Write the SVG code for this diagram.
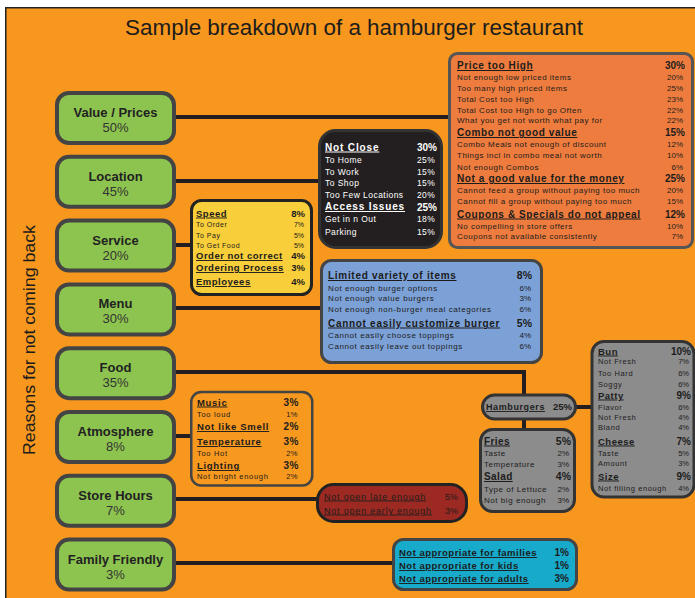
<svg xmlns="http://www.w3.org/2000/svg" width="695" height="598" viewBox="0 0 695 598">
<style>
text{font-family:"Liberation Sans",Arial,sans-serif;fill:#1c1c1c}
.u{text-decoration:underline;text-decoration-thickness:1.6px}
.e{text-anchor:end}
.nt{font-weight:bold;font-size:13px;text-anchor:middle;fill:#222}
.np{font-size:13px;text-anchor:middle;fill:#333}
.node rect{fill:#8DC44F;stroke:#444;stroke-width:4}
.box{stroke-width:3}
.h{font-weight:bold;font-size:10px}
.hp{font-weight:bold;font-size:10px}
.r{font-size:8px}
.rp{font-size:8px}
.w text{fill:#fff}
</style>
<rect x="5.75" y="7.75" width="700" height="600" fill="#F7971E" stroke="#222" stroke-width="1.5"/>
<text x="354" y="35" font-family="Roboto,'DejaVu Sans',sans-serif" font-weight="500" font-size="22" text-anchor="middle" textLength="458" lengthAdjust="spacingAndGlyphs" fill="#2a2a2a">Sample breakdown of a hamburger restaurant</text>
<text transform="translate(35,340) rotate(-90)" font-size="17" text-anchor="middle" textLength="230" lengthAdjust="spacingAndGlyphs" fill="#222">Reasons for not coming back</text>

<g id="connectors" fill="none" stroke="#231F20" stroke-width="4">
<line x1="176" y1="117" x2="449" y2="117"/>
<line x1="176" y1="181" x2="319" y2="181"/>
<line x1="176" y1="245" x2="191" y2="245"/>
<line x1="176" y1="308" x2="321" y2="308"/>
<polyline points="176,372 524,372 524,396"/>
<line x1="576" y1="407" x2="592" y2="407"/>
<line x1="524" y1="419" x2="524" y2="429"/>
<line x1="176" y1="436" x2="191" y2="436"/>
<line x1="176" y1="499" x2="318" y2="499"/>
<line x1="176" y1="563" x2="393" y2="563"/>
</g>

<g id="n-value" class="node"><rect x="57" y="93" width="117" height="50" rx="12"/><text class="nt" x="115.5" y="117">Value / Prices</text><text class="np" x="115.5" y="132">50%</text></g>
<g id="n-location" class="node"><rect x="57" y="156.8" width="117" height="50" rx="12"/><text class="nt" x="115.5" y="180.8">Location</text><text class="np" x="115.5" y="195.8">45%</text></g>
<g id="n-service" class="node"><rect x="57" y="220.6" width="117" height="50" rx="12"/><text class="nt" x="115.5" y="244.6">Service</text><text class="np" x="115.5" y="259.6">20%</text></g>
<g id="n-menu" class="node"><rect x="57" y="284.4" width="117" height="50" rx="12"/><text class="nt" x="115.5" y="308.4">Menu</text><text class="np" x="115.5" y="323.4">30%</text></g>
<g id="n-food" class="node"><rect x="57" y="348.2" width="117" height="50" rx="12"/><text class="nt" x="115.5" y="372.2">Food</text><text class="np" x="115.5" y="387.2">35%</text></g>
<g id="n-atmosphere" class="node"><rect x="57" y="412" width="117" height="50" rx="12"/><text class="nt" x="115.5" y="436">Atmosphere</text><text class="np" x="115.5" y="451">8%</text></g>
<g id="n-hours" class="node"><rect x="57" y="475.8" width="117" height="50" rx="12"/><text class="nt" x="115.5" y="499.8">Store Hours</text><text class="np" x="115.5" y="514.8">7%</text></g>
<g id="n-family" class="node"><rect x="57" y="539.6" width="117" height="50" rx="12"/><text class="nt" x="115.5" y="563.6">Family Friendly</text><text class="np" x="115.5" y="578.6">3%</text></g>

<g id="d-value">
<rect class="box" x="449.5" y="53.5" width="243" height="194" rx="8" fill="#EE7C3E" stroke="#555"/>
<g letter-spacing="0.6"><text class="h u" x="457" y="69">Price too High</text><text class="h u" x="457" y="136">Combo not good value</text><text class="h u" x="457" y="182">Not a good value for the money</text><text class="h u" x="457" y="217.5">Coupons &amp; Specials do not appeal</text></g>
<g class="e"><text class="hp e" x="685" y="69">30%</text><text class="hp e" x="685" y="136">15%</text><text class="hp e" x="685" y="182">25%</text><text class="hp e" x="685" y="217.5">12%</text></g>
<g letter-spacing="0.5" fill="#222">
<text class="r" x="457" y="79.5">Not enough low priced items</text>
<text class="r" x="457" y="90.5">Too many high priced items</text>
<text class="r" x="457" y="101.5">Total Cost too High</text>
<text class="r" x="457" y="112.5">Total Cost too High to go Often</text>
<text class="r" x="457" y="123.3">What you get not worth what pay for</text>
<text class="r" x="457" y="147">Combo Meals not enough of discount</text>
<text class="r" x="457" y="158.3">Things incl in combo meal not worth</text>
<text class="r" x="457" y="169.5">Not enough Combos</text>
<text class="r" x="457" y="193.3">Cannot feed a group without paying too much</text>
<text class="r" x="457" y="204.3">Cannot fill a group without paying too much</text>
<text class="r" x="457" y="228.5">No compelling in store offers</text>
<text class="r" x="457" y="239.3">Coupons not available consistently</text>
</g>
<g>
<text class="rp e" x="683" y="79.5">20%</text><text class="rp e" x="683" y="90.5">25%</text><text class="rp e" x="683" y="101.5">23%</text><text class="rp e" x="683" y="112.5">22%</text><text class="rp e" x="683" y="123.3">22%</text>
<text class="rp e" x="683" y="147">12%</text><text class="rp e" x="683" y="158.3">10%</text><text class="rp e" x="683" y="169.5">6%</text>
<text class="rp e" x="683" y="193.3">20%</text><text class="rp e" x="683" y="204.3">15%</text>
<text class="rp e" x="683" y="228.5">10%</text><text class="rp e" x="683" y="239.3">7%</text>
</g>
</g>

<g id="d-location" class="w">
<rect class="box" x="319.5" y="130.5" width="122" height="117" rx="16" fill="#231F20" stroke="#333"/>
<text class="h u" x="325" y="150.5" letter-spacing="0.85">Not Close</text>
<text class="h u" x="325" y="210" letter-spacing="0.85">Access Issues</text>
<text class="hp e" x="437" y="151" font-size="11">30%</text>
<text class="hp e" x="437" y="210.5" font-size="11">25%</text>
<g font-size="8.5" letter-spacing="0.45">
<text x="325" y="163">To Home</text><text x="325" y="174.5">To Work</text><text x="325" y="186">To Shop</text><text x="325" y="198">Too Few Locations</text><text x="325" y="222">Get in n Out</text><text x="325" y="234.5">Parking</text>
</g>
<g font-size="8.5" letter-spacing="0.3" text-anchor="end">
<text x="435" y="163">25%</text><text x="435" y="174.5">15%</text><text x="435" y="186">15%</text><text x="435" y="198">20%</text><text x="435" y="222">18%</text><text x="435" y="234.5">15%</text>
</g>
</g>

<g id="d-service">
<rect class="box" x="191.5" y="200.5" width="120" height="94" rx="10" fill="#F8CE3A" stroke="#222"/>
<g font-weight="bold" font-size="9.5" letter-spacing="0.5">
<text class="u" x="196" y="216.5">Speed</text><text class="u" x="196" y="259">Order not correct</text><text class="u" x="196" y="271">Ordering Process</text><text class="u" x="196" y="285">Employees</text>
</g>
<g font-weight="bold" font-size="9.5" text-anchor="end">
<text x="305" y="216.5">8%</text><text x="305" y="259">4%</text><text x="305" y="271">3%</text><text x="305" y="285">4%</text>
</g>
<g font-size="7" letter-spacing="0.5" fill="#222">
<text x="196" y="227">To Order</text><text x="196" y="237.5">To Pay</text><text x="196" y="248">To Get  Food</text>
</g>
<g font-size="7" text-anchor="end" fill="#222">
<text x="304" y="227">7%</text><text x="304" y="237.5">5%</text><text x="304" y="248">5%</text>
</g>
</g>

<g id="d-menu">
<rect class="box" x="321.5" y="260.5" width="220" height="102" rx="10" fill="#7CA1D6" stroke="#444"/>
<g font-weight="bold" font-size="10" letter-spacing="0.7">
<text class="u" x="328" y="279">Limited variety of items</text><text class="u" x="328" y="326.5">Cannot easily customize burger</text>
</g>
<g font-weight="bold" font-size="10.5" text-anchor="end">
<text x="532" y="279">8%</text><text x="532" y="326.5">5%</text>
</g>
<g font-size="8" letter-spacing="0.6" fill="#222">
<text x="328" y="290.5">Not enough burger options</text><text x="328" y="301">Not enough value burgers</text><text x="328" y="311.5">Not enough non-burger meal categories</text><text x="328" y="337.5">Cannot easily choose toppings</text><text x="328" y="348.5">Cannot easily leave out toppings</text>
</g>
<g font-size="8" text-anchor="end" fill="#222">
<text x="531" y="290.5">6%</text><text x="531" y="301">3%</text><text x="531" y="311.5">6%</text><text x="531" y="337.5">4%</text><text x="531" y="348.5">6%</text>
</g>
</g>

<g id="d-hamburgers">
<rect class="box" x="482.5" y="395" width="93" height="24" rx="12" fill="#8C8C8C" stroke="#333"/>
<text class="u" x="486" y="410" font-weight="bold" font-size="9" letter-spacing="0.6">Hamburgers</text>
<text x="572" y="410" font-weight="bold" font-size="9.5" text-anchor="end">25%</text>
</g>

<g id="d-burger-parts">
<rect class="box" x="592" y="341.5" width="102" height="155.5" rx="12" fill="#8C8C8C" stroke="#333"/>
<g font-weight="bold" font-size="9.5" letter-spacing="0.5">
<text class="u" x="598" y="354.5">Bun</text><text class="u" x="598" y="398.5">Patty</text><text class="u" x="598" y="444.5">Cheese</text><text class="u" x="598" y="479.5">Size</text>
</g>
<g font-weight="bold" font-size="10" text-anchor="end">
<text x="691" y="354.5">10%</text><text x="691" y="398.5">9%</text><text x="691" y="444.5">7%</text><text x="691" y="479.5">9%</text>
</g>
<g font-size="7.5" letter-spacing="0.6" fill="#222">
<text x="598" y="364">Not Fresh</text><text x="598" y="375.5">Too Hard</text><text x="598" y="387">Soggy</text><text x="598" y="410">Flavor</text><text x="598" y="420">Not Fresh</text><text x="598" y="430">Bland</text><text x="598" y="455.5">Taste</text><text x="598" y="465.5">Amount</text><text x="598" y="490.5">Not filling enough</text>
</g>
<g font-size="7.5" text-anchor="end" fill="#222">
<text x="689" y="364">7%</text><text x="689" y="375.5">6%</text><text x="689" y="387">6%</text><text x="689" y="410">6%</text><text x="689" y="420">4%</text><text x="689" y="430">4%</text><text x="689" y="455.5">5%</text><text x="689" y="465.5">3%</text><text x="689" y="490.5">4%</text>
</g>
</g>

<g id="d-sides">
<rect class="box" x="480.5" y="429.5" width="94" height="82" rx="12" fill="#8C8C8C" stroke="#333"/>
<g font-weight="bold" font-size="10" letter-spacing="0.4">
<text class="u" x="484" y="444.5">Fries</text><text class="u" x="484" y="480">Salad</text>
</g>
<g font-weight="bold" font-size="10.5" text-anchor="end">
<text x="571" y="444.5">5%</text><text x="571" y="480">4%</text>
</g>
<g font-size="8" letter-spacing="0.55" fill="#222">
<text x="484" y="455.5">Taste</text><text x="484" y="466.5">Temperature</text><text x="484" y="492">Type of Lettuce</text><text x="484" y="503">Not big enough</text>
</g>
<g font-size="8" text-anchor="end" fill="#222">
<text x="569" y="455.5">2%</text><text x="569" y="466.5">3%</text><text x="569" y="492">2%</text><text x="569" y="503">3%</text>
</g>
</g>

<g id="d-atmosphere">
<rect x="191.25" y="392" width="121" height="93.5" rx="10" fill="#F7981F" stroke="#444" stroke-width="2.5"/>
<g font-weight="bold" font-size="9.5" letter-spacing="0.7">
<text class="u" x="197" y="405.5">Music</text><text class="u" x="197" y="430">Not like Smell</text><text class="u" x="197" y="445">Temperature</text><text class="u" x="197" y="469">Lighting</text>
</g>
<g font-weight="bold" font-size="10" letter-spacing="0.5" text-anchor="end">
<text x="299" y="405.5">3%</text><text x="299" y="430">2%</text><text x="299" y="445">3%</text><text x="299" y="469">3%</text>
</g>
<g font-size="7.5" letter-spacing="0.7" fill="#222">
<text x="197" y="416.5">Too loud</text><text x="197" y="455.5">Too Hot</text><text x="197" y="479">Not bright enough</text>
</g>
<g font-size="7.5" letter-spacing="0.5" text-anchor="end" fill="#222">
<text x="298" y="416.5">1%</text><text x="298" y="455.5">2%</text><text x="298" y="479">2%</text>
</g>
</g>

<g id="d-hours">
<rect class="box" x="317.5" y="484.5" width="149" height="37" rx="16" fill="#9C2A22" stroke="#222"/>
<g font-size="9" letter-spacing="0.8" fill="#111">
<text class="u" x="324" y="499.5">Not open late enough</text><text class="u" x="324" y="513.5">Not open early enough</text>
</g>
<g font-size="9" text-anchor="end" fill="#111">
<text x="458" y="499.5">5%</text><text x="458" y="513.5">3%</text>
</g>
</g>

<g id="d-family">
<rect class="box" x="393.5" y="539.5" width="183" height="50" rx="10" fill="#17AACA" stroke="#444"/>
<g font-weight="bold" font-size="9.5" letter-spacing="0.5">
<text class="u" x="399" y="556">Not appropriate for families</text><text class="u" x="399" y="569">Not appropriate for kids</text><text class="u" x="399" y="582">Not appropriate for adults</text>
</g>
<g font-weight="bold" font-size="10" text-anchor="end">
<text x="569" y="556">1%</text><text x="569" y="569">1%</text><text x="569" y="582">3%</text>
</g>
</g>
</svg>
